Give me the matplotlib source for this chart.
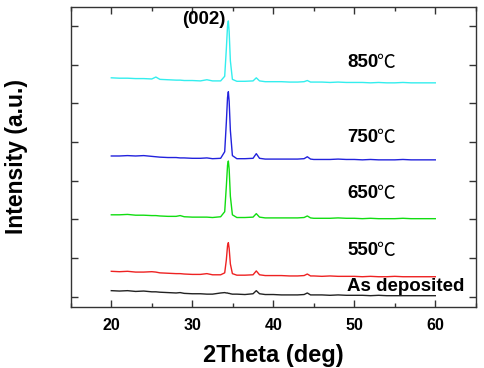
import matplotlib
matplotlib.use("Agg")
import matplotlib.pyplot as plt
from matplotlib.ticker import MultipleLocator

# 2theta grid (deg), denser around the peaks
two_theta = [20, 21, 22, 23, 24, 25, 25.5, 26, 27, 28, 28.5, 29, 30, 31, 31.8, 32.5, 33.5,
             34.0, 34.2, 34.35, 34.45, 34.55, 34.7, 34.95, 35.5, 36.5, 37.5, 37.9, 38.3,
             39, 40, 41, 42, 43, 43.8, 44.2, 44.6, 45, 46, 47, 48, 49, 50, 51, 52, 53,
             54, 55, 56, 57, 58, 59, 60]

# stacked intensities (offset, arbitrary units)
as_deposited = [0.16, 0.15, 0.16, 0.14, 0.15, 0.13, 0.13, 0.12, 0.11, 0.10, 0.11, 0.09, 0.08,
                0.08, 0.07, 0.07, 0.10, 0.11, 0.10, 0.10, 0.09, 0.09, 0.08, 0.07, 0.07, 0.06,
                0.08, 0.16, 0.08, 0.06, 0.06, 0.05, 0.05, 0.05, 0.06, 0.10, 0.05, 0.05, 0.05,
                0.04, 0.05, 0.04, 0.04, 0.04, 0.03, 0.04, 0.03, 0.03, 0.03, 0.03, 0.03, 0.03, 0.03]
t550 = [0.66, 0.65, 0.66, 0.64, 0.64, 0.65, 0.64, 0.62, 0.61, 0.60, 0.60, 0.59, 0.58, 0.58,
        0.60, 0.57, 0.57, 0.62, 0.95, 1.32, 1.40, 1.25, 0.85, 0.60, 0.56, 0.56, 0.57, 0.67,
        0.57, 0.55, 0.55, 0.55, 0.54, 0.54, 0.55, 0.59, 0.54, 0.54, 0.53, 0.54, 0.53, 0.53,
        0.53, 0.52, 0.53, 0.52, 0.52, 0.53, 0.52, 0.52, 0.52, 0.52, 0.52]
t650 = [2.12, 2.12, 2.13, 2.11, 2.11, 2.10, 2.10, 2.09, 2.08, 2.08, 2.10, 2.07, 2.06, 2.06,
        2.06, 2.05, 2.07, 2.20, 2.85, 3.40, 3.51, 3.30, 2.60, 2.12, 2.05, 2.05, 2.06, 2.15,
        2.06, 2.04, 2.04, 2.04, 2.04, 2.04, 2.05, 2.09, 2.04, 2.03, 2.03, 2.03, 2.04, 2.03,
        2.03, 2.02, 2.03, 2.02, 2.02, 2.02, 2.03, 2.02, 2.02, 2.02, 2.02]
t750 = [3.64, 3.64, 3.65, 3.64, 3.65, 3.63, 3.62, 3.61, 3.60, 3.60, 3.59, 3.59, 3.58, 3.58,
        3.59, 3.57, 3.58, 3.75, 4.50, 5.15, 5.30, 5.05, 4.30, 3.65, 3.57, 3.57, 3.58, 3.70,
        3.58, 3.56, 3.56, 3.56, 3.56, 3.56, 3.57, 3.62, 3.56, 3.55, 3.55, 3.55, 3.56, 3.55,
        3.55, 3.54, 3.55, 3.54, 3.54, 3.54, 3.55, 3.54, 3.54, 3.54, 3.54]
t850 = [5.66, 5.65, 5.65, 5.64, 5.64, 5.63, 5.68, 5.62, 5.61, 5.60, 5.60, 5.59, 5.59, 5.58,
        5.61, 5.58, 5.58, 5.70, 6.40, 7.00, 7.13, 6.85, 6.10, 5.62, 5.57, 5.57, 5.58, 5.66,
        5.58, 5.56, 5.56, 5.56, 5.55, 5.55, 5.56, 5.59, 5.55, 5.55, 5.55, 5.54, 5.55, 5.54,
        5.54, 5.54, 5.53, 5.54, 5.53, 5.53, 5.54, 5.53, 5.53, 5.53, 5.53]

series = [as_deposited, t550, t650, t750, t850]
colors = ["#222222", "#ee2222", "#11dd11", "#2222dd", "#33eeee"]
labels = ["As deposited", "550", "650", "750", "850"]
label_y = [0.28, 1.19, 2.66, 4.13, 6.05]

plt.rcParams["font.family"] = ["Liberation Sans", "Noto Sans CJK SC", "DejaVu Sans"]

fig = plt.figure(figsize=(4.85, 3.68), dpi=100)
ax = fig.add_axes([0.146, 0.166, 0.835, 0.815])

for ys, c in zip(series, colors):
    ax.plot(two_theta, ys, color=c, lw=1.0)

for lab, yy in zip(labels, label_y):
    t = ax.text(49.1, yy, lab, fontsize=13.5, fontweight="bold", va="center", ha="left")
    if lab != "As deposited":
        # thin CJK-style degree Celsius sign after the number
        ax.annotate("℃", xy=(1, 0.5), xycoords=t, xytext=(-1.5, 0), textcoords="offset points",
                    va="center", ha="left", fontsize=13.5, family="Noto Sans CJK SC")
ax.text(34.15, 7.16, "(002)", fontsize=13.5, fontweight="bold", va="center", ha="right")

ax.set_xlim(15, 65)
ax.set_ylim(-0.26, 7.49)
ax.xaxis.set_major_locator(MultipleLocator(10))
ax.xaxis.set_minor_locator(MultipleLocator(5))
ax.yaxis.set_major_locator(MultipleLocator(1))
ax.set_yticklabels([])
ax.tick_params(which="both", direction="in", top=True, right=True, width=1.0, color="#333333")
ax.tick_params(which="major", length=5)
ax.tick_params(which="minor", length=3)
ax.tick_params(axis="x", labelsize=11.5, pad=8)
for lbl in ax.get_xticklabels():
    lbl.set_fontweight("bold")
for sp in ax.spines.values():
    sp.set_linewidth(1.0)
    sp.set_color("#333333")

ax.set_xlabel("2Theta (deg)", fontsize=17, fontweight="bold", labelpad=8)
ax.set_ylabel("Intensity (a.u.)", fontsize=16.5, fontweight="bold", labelpad=27)

fig.savefig("out.png", dpi=100)
plt.close(fig)
